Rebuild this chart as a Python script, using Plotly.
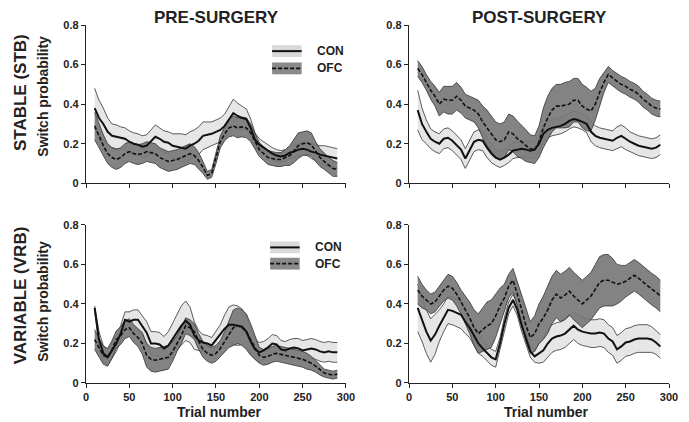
import plotly.graph_objects as go

# ---------------- data ----------------
trials = list(range(10, 291, 5))

# PRE-SURGERY, STABLE
pre_stb_con_mean = [0.38, 0.33, 0.30, 0.26, 0.24, 0.235, 0.23, 0.225, 0.21, 0.20, 0.195, 0.185, 0.19, 0.21, 0.235,
                    0.225, 0.21, 0.205, 0.19, 0.185, 0.18, 0.175, 0.19, 0.20, 0.215, 0.24, 0.245, 0.25, 0.26, 0.27,
                    0.29, 0.32, 0.355, 0.34, 0.33, 0.325, 0.28, 0.22, 0.195, 0.18, 0.165, 0.15, 0.14, 0.135, 0.14,
                    0.155, 0.16, 0.17, 0.175, 0.17, 0.16, 0.155, 0.145, 0.14, 0.135, 0.13, 0.125]
pre_stb_con_sem = [0.10, 0.09, 0.08, 0.07, 0.06, 0.06, 0.055, 0.055, 0.055, 0.055, 0.055, 0.055, 0.055, 0.06, 0.06,
                   0.055, 0.055, 0.055, 0.06, 0.065, 0.07, 0.07, 0.07, 0.07, 0.07, 0.07, 0.065, 0.06, 0.06, 0.06,
                   0.06, 0.065, 0.07, 0.065, 0.06, 0.05, 0.045, 0.035, 0.03, 0.03, 0.03, 0.03, 0.03, 0.03, 0.03,
                   0.03, 0.03, 0.03, 0.03, 0.03, 0.035, 0.04, 0.045, 0.05, 0.05, 0.05, 0.05]
pre_stb_ofc_mean = [0.29, 0.24, 0.19, 0.15, 0.13, 0.12, 0.13, 0.15, 0.16, 0.15, 0.145, 0.15, 0.16, 0.155, 0.15,
                    0.13, 0.12, 0.11, 0.115, 0.12, 0.13, 0.14, 0.15, 0.14, 0.115, 0.08, 0.04, 0.05, 0.13, 0.21,
                    0.25, 0.28, 0.29, 0.28, 0.285, 0.28, 0.255, 0.21, 0.17, 0.15, 0.13, 0.125, 0.12, 0.12, 0.13,
                    0.14, 0.165, 0.19, 0.20, 0.205, 0.195, 0.16, 0.13, 0.11, 0.09, 0.075, 0.07]
pre_stb_ofc_sem = [0.07, 0.06, 0.055, 0.05, 0.05, 0.05, 0.05, 0.05, 0.05, 0.05, 0.05, 0.05, 0.05, 0.05, 0.05,
                   0.05, 0.05, 0.05, 0.05, 0.05, 0.05, 0.05, 0.05, 0.045, 0.04, 0.03, 0.02, 0.02, 0.03, 0.03,
                   0.035, 0.045, 0.05, 0.05, 0.05, 0.05, 0.045, 0.04, 0.035, 0.035, 0.035, 0.035, 0.035, 0.035, 0.04,
                   0.05, 0.06, 0.065, 0.06, 0.06, 0.06, 0.05, 0.045, 0.04, 0.04, 0.04, 0.035]

# POST-SURGERY, STABLE
post_stb_con_mean = [0.37, 0.30, 0.26, 0.225, 0.21, 0.20, 0.225, 0.23, 0.215, 0.195, 0.17, 0.125, 0.17, 0.21, 0.22,
                     0.215, 0.18, 0.15, 0.13, 0.12, 0.13, 0.145, 0.165, 0.17, 0.175, 0.17, 0.165, 0.17, 0.20, 0.25,
                     0.27, 0.28, 0.285, 0.29, 0.30, 0.315, 0.325, 0.32, 0.31, 0.30, 0.26, 0.24, 0.23, 0.225, 0.22,
                     0.215, 0.23, 0.24, 0.225, 0.21, 0.20, 0.19, 0.185, 0.18, 0.175, 0.18, 0.195]
post_stb_con_sem = [0.10, 0.08, 0.06, 0.05, 0.05, 0.05, 0.05, 0.05, 0.05, 0.05, 0.05, 0.05, 0.05, 0.05, 0.05,
                    0.05, 0.05, 0.045, 0.04, 0.04, 0.04, 0.04, 0.04, 0.04, 0.04, 0.04, 0.04, 0.04, 0.04, 0.04,
                    0.04, 0.04, 0.04, 0.04, 0.04, 0.04, 0.04, 0.04, 0.04, 0.045, 0.05, 0.05, 0.05, 0.05, 0.05,
                    0.05, 0.055, 0.055, 0.055, 0.05, 0.05, 0.05, 0.05, 0.05, 0.05, 0.05, 0.05]
post_stb_ofc_mean = [0.58, 0.55, 0.51, 0.47, 0.44, 0.40, 0.425, 0.42, 0.42, 0.44, 0.42, 0.39, 0.38, 0.37, 0.35,
                     0.31, 0.28, 0.25, 0.22, 0.21, 0.22, 0.26, 0.25, 0.225, 0.21, 0.19, 0.175, 0.17, 0.21, 0.28,
                     0.33, 0.37, 0.39, 0.39, 0.395, 0.40, 0.42, 0.42, 0.39, 0.375, 0.365, 0.40, 0.46, 0.51, 0.55,
                     0.53, 0.515, 0.50, 0.49, 0.475, 0.465, 0.45, 0.425, 0.41, 0.39, 0.38, 0.375]
post_stb_ofc_sem = [0.04, 0.04, 0.04, 0.045, 0.05, 0.06, 0.065, 0.07, 0.07, 0.07, 0.065, 0.06, 0.06, 0.06, 0.07,
                    0.08, 0.09, 0.09, 0.09, 0.09, 0.09, 0.09, 0.09, 0.09, 0.085, 0.08, 0.07, 0.07, 0.08, 0.10,
                    0.11, 0.11, 0.11, 0.11, 0.115, 0.115, 0.11, 0.11, 0.11, 0.11, 0.10, 0.08, 0.07, 0.05, 0.04,
                    0.04, 0.04, 0.04, 0.04, 0.04, 0.04, 0.04, 0.04, 0.04, 0.04, 0.04, 0.04]

# PRE-SURGERY, VARIABLE
pre_vrb_con_mean = [0.38, 0.22, 0.15, 0.13, 0.165, 0.20, 0.25, 0.32, 0.31, 0.32, 0.32, 0.29, 0.255, 0.20, 0.20,
                    0.195, 0.175, 0.19, 0.225, 0.26, 0.29, 0.315, 0.295, 0.24, 0.215, 0.205, 0.20, 0.19, 0.22, 0.245,
                    0.275, 0.295, 0.295, 0.29, 0.285, 0.26, 0.21, 0.17, 0.155, 0.165, 0.18, 0.20, 0.195, 0.17, 0.165,
                    0.175, 0.18, 0.175, 0.165, 0.17, 0.175, 0.17, 0.16, 0.155, 0.16, 0.155, 0.155]
pre_vrb_con_sem = [0.01, 0.04, 0.04, 0.04, 0.04, 0.04, 0.04, 0.04, 0.05, 0.05, 0.05, 0.05, 0.055, 0.06, 0.06,
                   0.06, 0.06, 0.07, 0.08, 0.09, 0.10, 0.10, 0.09, 0.07, 0.05, 0.04, 0.04, 0.04, 0.04, 0.05,
                   0.07, 0.09, 0.10, 0.10, 0.09, 0.08, 0.06, 0.05, 0.05, 0.045, 0.045, 0.045, 0.045, 0.045, 0.045,
                   0.045, 0.045, 0.05, 0.05, 0.05, 0.05, 0.05, 0.05, 0.05, 0.05, 0.05, 0.05]
pre_vrb_ofc_mean = [0.22, 0.18, 0.14, 0.13, 0.17, 0.22, 0.24, 0.27, 0.28, 0.25, 0.23, 0.20, 0.14, 0.12, 0.115,
                    0.12, 0.125, 0.13, 0.16, 0.20, 0.24, 0.29, 0.28, 0.26, 0.21, 0.17, 0.15, 0.14, 0.15, 0.175,
                    0.21, 0.25, 0.28, 0.29, 0.28, 0.26, 0.22, 0.18, 0.14, 0.13, 0.135, 0.145, 0.15, 0.145, 0.14,
                    0.135, 0.13, 0.125, 0.12, 0.11, 0.10, 0.085, 0.065, 0.05, 0.045, 0.04, 0.045]
pre_vrb_ofc_sem = [0.05, 0.045, 0.045, 0.045, 0.045, 0.045, 0.045, 0.045, 0.045, 0.045, 0.045, 0.055, 0.06, 0.06, 0.06,
                   0.06, 0.06, 0.06, 0.05, 0.04, 0.04, 0.04, 0.04, 0.04, 0.04, 0.04, 0.04, 0.04, 0.04, 0.04,
                   0.05, 0.07, 0.09, 0.09, 0.09, 0.09, 0.08, 0.06, 0.04, 0.04, 0.04, 0.04, 0.04, 0.04, 0.04,
                   0.04, 0.04, 0.04, 0.04, 0.04, 0.035, 0.03, 0.025, 0.02, 0.02, 0.02, 0.02]

# POST-SURGERY, VARIABLE
post_vrb_con_mean = [0.38, 0.32, 0.26, 0.215, 0.245, 0.29, 0.33, 0.37, 0.365, 0.355, 0.345, 0.31, 0.28, 0.24, 0.20,
                     0.175, 0.15, 0.13, 0.12, 0.20, 0.30, 0.38, 0.42, 0.37, 0.29, 0.22, 0.16, 0.135, 0.15, 0.165,
                     0.20, 0.225, 0.235, 0.24, 0.25, 0.27, 0.29, 0.27, 0.26, 0.255, 0.25, 0.25, 0.255, 0.25, 0.225,
                     0.21, 0.17, 0.185, 0.205, 0.21, 0.22, 0.225, 0.225, 0.225, 0.22, 0.205, 0.185]
post_vrb_con_sem = [0.12, 0.11, 0.11, 0.11, 0.10, 0.08, 0.07, 0.07, 0.07, 0.07, 0.07, 0.06, 0.05, 0.05, 0.05,
                    0.04, 0.04, 0.04, 0.04, 0.03, 0.03, 0.03, 0.03, 0.03, 0.03, 0.03, 0.03, 0.03, 0.05, 0.06,
                    0.07, 0.07, 0.07, 0.07, 0.07, 0.07, 0.07, 0.07, 0.07, 0.07, 0.07, 0.07, 0.07, 0.07, 0.07,
                    0.07, 0.07, 0.07, 0.07, 0.07, 0.07, 0.07, 0.07, 0.07, 0.065, 0.06, 0.06]
post_vrb_ofc_mean = [0.47, 0.44, 0.42, 0.40, 0.41, 0.44, 0.47, 0.49, 0.48, 0.45, 0.41, 0.37, 0.33, 0.28, 0.25,
                     0.27, 0.29, 0.30, 0.34, 0.39, 0.43, 0.49, 0.52, 0.45, 0.37, 0.29, 0.23, 0.25, 0.30, 0.33,
                     0.37, 0.42, 0.45, 0.43, 0.445, 0.465, 0.44, 0.42, 0.40, 0.42, 0.44, 0.475, 0.51, 0.52, 0.52,
                     0.51, 0.50, 0.505, 0.515, 0.53, 0.545, 0.53, 0.51, 0.49, 0.475, 0.46, 0.44]
post_vrb_ofc_sem = [0.07, 0.06, 0.05, 0.05, 0.05, 0.05, 0.055, 0.06, 0.06, 0.06, 0.06, 0.07, 0.08, 0.09, 0.10,
                    0.11, 0.12, 0.12, 0.11, 0.09, 0.07, 0.06, 0.06, 0.06, 0.07, 0.08, 0.08, 0.09, 0.10, 0.11,
                    0.12, 0.12, 0.12, 0.12, 0.12, 0.12, 0.12, 0.12, 0.12, 0.12, 0.12, 0.125, 0.13, 0.13, 0.13,
                    0.12, 0.10, 0.09, 0.08, 0.08, 0.08, 0.08, 0.08, 0.08, 0.08, 0.08, 0.08]

col_titles = ["PRE-SURGERY", "POST-SURGERY"]
row_titles = ["STABLE (STB)", "VARIABLE (VRB)"]
group_names = ["CON", "OFC"]
y_title = "Switch probability"
x_title = "Trial number"
y_tickvals = [0, 0.2, 0.4, 0.6, 0.8]
y_ticktext = ["0", "0.2", "0.4", "0.6", "0.8"]
x_tickvals = [0, 50, 100, 150, 200, 250, 300]

panels = [
    ("x", "y", pre_stb_con_mean, pre_stb_con_sem, pre_stb_ofc_mean, pre_stb_ofc_sem),
    ("x2", "y2", post_stb_con_mean, post_stb_con_sem, post_stb_ofc_mean, post_stb_ofc_sem),
    ("x3", "y3", pre_vrb_con_mean, pre_vrb_con_sem, pre_vrb_ofc_mean, pre_vrb_ofc_sem),
    ("x4", "y4", post_vrb_con_mean, post_vrb_con_sem, post_vrb_ofc_mean, post_vrb_ofc_sem),
]

# ---------------- styles ----------------
CON_FILL = "#e6e6e6"
EDGE = "#333333"
FONT = "Liberation Sans, Arial, sans-serif"

fig = go.Figure()

for xa, ya, cm, cs, om, os_ in panels:
    con_up = [m + s for m, s in zip(cm, cs)]
    con_lo = [m - s for m, s in zip(cm, cs)]
    ofc_up = [m + s for m, s in zip(om, os_)]
    ofc_lo = [m - s for m, s in zip(om, os_)]
    common = dict(xaxis=xa, yaxis=ya, showlegend=False, hoverinfo="skip", mode="lines")
    fig.add_trace(go.Scatter(x=trials, y=con_up, line=dict(color=EDGE, width=0.8), **common))
    fig.add_trace(go.Scatter(x=trials, y=con_lo, line=dict(color=EDGE, width=0.8),
                             fill="tonexty", fillcolor=CON_FILL, **common))
    fig.add_trace(go.Scatter(x=trials, y=ofc_up, line=dict(color=EDGE, width=0.8), **common))
    fig.add_trace(go.Scatter(x=trials, y=ofc_lo, line=dict(color=EDGE, width=0.8),
                             fill="tonexty", fillcolor="rgba(120,120,120,0.92)", **common))
    fig.add_trace(go.Scatter(x=trials, y=cm, line=dict(color="#111111", width=2), **common))
    fig.add_trace(go.Scatter(x=trials, y=om, line=dict(color="#111111", width=1.6, dash="4px,2px"), **common))

# ---------------- layout ----------------
# The page body adds an 8px offset, so the figure is 8px smaller and margins shifted accordingly.
OFF = 8
W, H = 689 - OFF, 422 - OFF
ML, MR, MT, MB = 86 - OFF, 11, 20 - OFF, 39
PW, PH = W - ML - MR, H - MT - MB


def px(xp):
    # reference-pixel x -> paper coordinate
    return (xp - OFF - ML) / PW


def py(yp):
    # reference-pixel y -> paper coordinate
    return (H - MB - (yp - OFF)) / PH


xdom_l = [0, px(350)]
xdom_r = [px(414), 1]
ydom_t = [py(180.5), 1]
ydom_b = [0, py(222.7)]

axis_common = dict(showline=True, linecolor="#222222", linewidth=1.3, ticks="outside", ticklen=4,
                   tickwidth=1, tickcolor="#222222", showgrid=False, zeroline=False,
                   tickfont=dict(family=FONT, size=11, color="#222222", weight="bold"))


def xax(dom, anchor, labels):
    return dict(domain=dom, anchor=anchor, range=[0, 300], tickvals=x_tickvals,
                showticklabels=labels, **axis_common)


def yax(dom, anchor):
    return dict(domain=dom, anchor=anchor, range=[0, 0.8], tickvals=y_tickvals,
                ticktext=y_ticktext, **axis_common)


fig.update_layout(
    width=W, height=H, margin=dict(l=ML, r=MR, t=MT, b=MB),
    plot_bgcolor="white", paper_bgcolor="white", showlegend=False,
    xaxis=xax(xdom_l, "y", False), yaxis=yax(ydom_t, "x"),
    xaxis2=xax(xdom_r, "y2", False), yaxis2=yax(ydom_t, "x2"),
    xaxis3=xax(xdom_l, "y3", True), yaxis3=yax(ydom_b, "x3"),
    xaxis4=xax(xdom_r, "y4", True), yaxis4=yax(ydom_b, "x4"),
)

ann = []


def text(t, x, y, size, angle=0, xanchor="center"):
    ann.append(dict(text="<b>" + t + "</b>", x=px(x), y=py(y), xref="paper", yref="paper",
                    showarrow=False, textangle=angle, xanchor=xanchor, yanchor="middle",
                    font=dict(family=FONT, size=size, color="#222222")))


text(col_titles[0], 219, 12, 17)
text(col_titles[1], 547, 12, 17)
text(row_titles[0], 19, 89, 17, -90)
text(row_titles[1], 19, 294, 17, -90)
text(y_title, 42, 92, 14, -90)
text(y_title, 42, 300, 14, -90)
text(x_title, 222, 412, 14)
text(x_title, 554, 412, 14)

shapes = []
# legends (top-left and bottom-left panels)
for (bx, yc1, yc2, tx) in [(275, 46.5, 64, 319), (273, 245.5, 262, 317)]:
    for yc, fill, solid, name in [(yc1, "#d9d9d9", True, group_names[0]), (yc2, "#8a8a8a", False, group_names[1])]:
        shapes.append(dict(type="rect", xref="paper", yref="paper", x0=px(bx), x1=px(bx + 30),
                           y0=py(yc - 6), y1=py(yc + 6), fillcolor=fill, line=dict(width=0)))
        shapes.append(dict(type="line", xref="paper", yref="paper", x0=px(bx), x1=px(bx + 30),
                           y0=py(yc), y1=py(yc),
                           line=dict(color="#111111", width=2 if solid else 1.6,
                                     dash="solid" if solid else "4px,2px")))
        text(name, tx, yc, 12, 0, "left")

fig.update_layout(annotations=ann, shapes=shapes)
fig.write_html("out.html")
